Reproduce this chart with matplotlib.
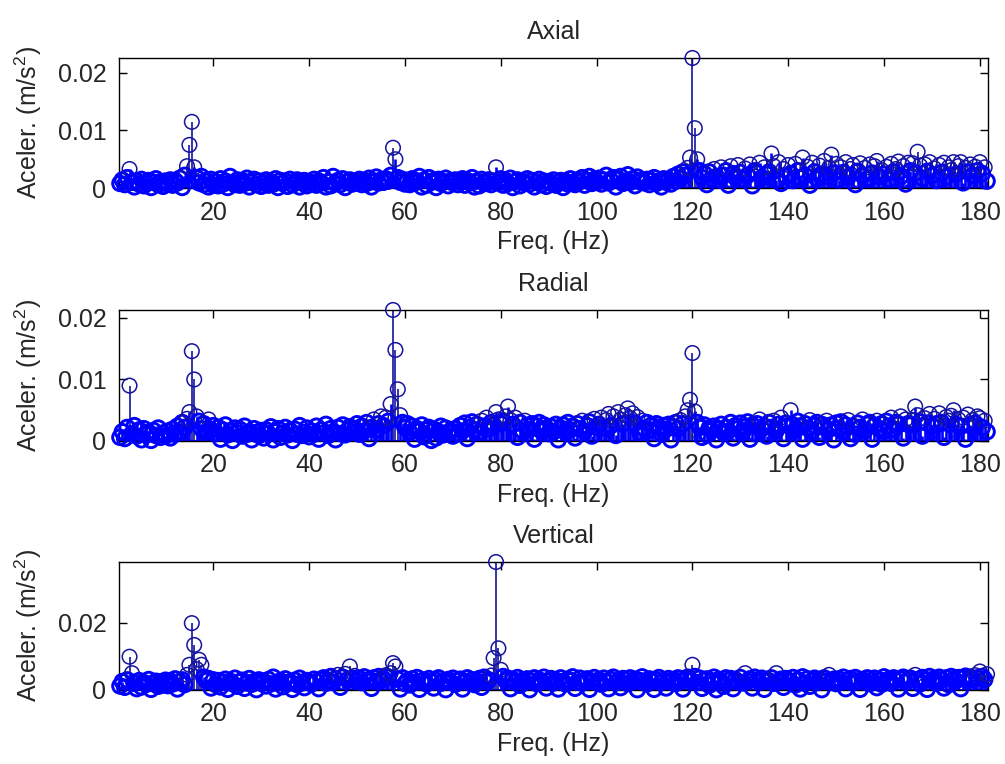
import numpy as np
import matplotlib
matplotlib.use("Agg")
import matplotlib.pyplot as plt

# spectrum amplitudes, units of 1e-4 m/s^2, one value per 0.5 Hz bin (0.5 .. 181.5 Hz)
axial = [
    8, 14, 6, 18, 33, 10, 2, 12, 7, 15, 4, 9, 13, 1, 10, 16, 6, 11, 3, 12,
    7, 14, 5, 13, 9, 17, 1, 22, 38, 75, 115, 36, 18, 9, 20, 6, 13, 2, 15, 5,
    11, 4, 16, 7, 12, 1, 20, 9, 6, 14, 5, 13, 8, 17, 2, 10, 15, 6, 12, 3,
    9, 14, 5, 11, 7, 16, 1, 13, 8, 12, 3, 15, 6, 10, 14, 2, 9, 13, 4, 11,
    7, 15, 5, 12, 9, 18, 2, 11, 4, 20, 8, 13, 6, 16, 1, 10, 14, 7, 12, 9,
    15, 6, 13, 8, 17, 2, 11, 19, 9, 14, 10, 16, 12, 22, 70, 50, 18, 10, 15, 7,
    13, 6, 16, 9, 12, 20, 2, 14, 5, 18, 10, 13, 1, 15, 8, 11, 17, 4, 12, 9,
    14, 6, 11, 16, 5, 13, 9, 18, 2, 12, 4, 15, 10, 8, 14, 6, 12, 36, 9, 16,
    5, 13, 8, 17, 1, 11, 14, 4, 12, 9, 16, 7, 13, 2, 10, 15, 6, 12, 3, 11,
    8, 14, 5, 10, 13, 1, 12, 7, 16, 9, 6, 14, 11, 18, 5, 13, 20, 8, 15, 10,
    17, 7, 14, 22, 9, 13, 18, 2, 15, 20, 8, 12, 23, 10, 16, 4, 19, 11, 14, 9,
    15, 6, 13, 18, 8, 12, 2, 16, 10, 14, 7, 20, 12, 24, 17, 28, 22, 35, 53, 226,
    104, 50, 30, 18, 25, 6, 28, 16, 33, 20, 14, 36, 22, 30, 5, 38, 25, 18, 40, 27,
    15, 34, 22, 41, 4, 30, 26, 44, 18, 36, 24, 28, 60, 38, 14, 45, 8, 33, 20, 40,
    25, 13, 42, 30, 18, 53, 22, 37, 5, 44, 28, 16, 39, 24, 47, 20, 35, 58, 26, 42,
    14, 36, 27, 45, 19, 33, 40, 6, 29, 43, 22, 35, 16, 41, 26, 38, 47, 20, 31, 24,
    37, 15, 42, 28, 33, 46, 20, 38, 7, 44, 30, 43, 26, 63, 39, 17, 41, 29, 45, 22,
    34, 13, 40, 27, 44, 19, 36, 31, 45, 24, 38, 45, 9, 35, 28, 41, 22, 37, 30, 45,
    25, 36, 12,
]

radial = [
    6, 15, 4, 22, 90, 12, 25, 8, 18, 2, 20, 10, 14, 1, 17, 9, 21, 6, 13, 8,
    16, 5, 19, 11, 24, 14, 30, 22, 36, 47, 146, 100, 40, 32, 20, 28, 15, 35, 18, 25,
    12, 22, 3, 18, 26, 10, 16, 1, 21, 13, 19, 8, 24, 11, 15, 2, 20, 14, 9, 17,
    5, 18, 12, 23, 2, 15, 20, 6, 13, 22, 10, 17, 1, 19, 11, 25, 9, 14, 21, 7,
    16, 11, 24, 3, 18, 13, 27, 9, 20, 15, 2, 22, 12, 26, 10, 17, 23, 14, 19, 28,
    11, 24, 16, 30, 4, 22, 35, 18, 28, 40, 25, 38, 32, 60, 213, 148, 84, 42, 30, 22,
    28, 14, 24, 3, 20, 16, 26, 7, 18, 22, 1, 19, 5, 15, 24, 10, 21, 13, 17, 8,
    20, 12, 25, 16, 29, 4, 22, 31, 18, 27, 14, 33, 24, 38, 20, 30, 26, 47, 35, 28,
    32, 40, 56, 34, 27, 38, 6, 30, 17, 33, 25, 19, 28, 3, 24, 30, 16, 26, 21, 12,
    23, 15, 27, 2, 21, 26, 14, 30, 18, 24, 5, 28, 20, 33, 16, 25, 31, 8, 36, 22,
    27, 38, 21, 34, 44, 25, 40, 9, 47, 35, 28, 42, 53, 37, 45, 29, 39, 14, 33, 20,
    30, 18, 26, 4, 28, 22, 11, 25, 19, 27, 2, 23, 30, 20, 34, 28, 40, 50, 67, 143,
    48, 30, 22, 6, 26, 10, 21, 17, 24, 2, 19, 27, 13, 22, 16, 30, 5, 25, 20, 29,
    14, 23, 31, 3, 26, 12, 28, 35, 20, 24, 8, 30, 22, 33, 17, 27, 38, 4, 29, 25,
    50, 26, 18, 32, 24, 3, 28, 21, 34, 16, 25, 30, 6, 27, 22, 33, 19, 26, 2, 29,
    20, 31, 15, 26, 34, 4, 24, 11, 29, 22, 35, 17, 27, 30, 3, 25, 33, 20, 28, 16,
    32, 24, 38, 19, 30, 27, 40, 5, 35, 28, 26, 34, 56, 42, 31, 8, 37, 29, 44, 25,
    36, 28, 45, 30, 6, 39, 33, 41, 50, 27, 35, 24, 38, 3, 43, 26, 34, 29, 40, 37,
    22, 33, 15,
]

vertical = [
    12, 25, 8, 30, 99, 50, 20, 4, 28, 9, 22, 17, 31, 2, 19, 26, 11, 24, 15, 29,
    13, 27, 18, 33, 3, 24, 30, 16, 45, 75, 199, 134, 62, 90, 75, 38, 28, 34, 6, 30,
    16, 28, 9, 23, 32, 2, 26, 19, 35, 11, 24, 29, 5, 21, 34, 17, 25, 1, 30, 20,
    26, 12, 31, 18, 38, 3, 22, 27, 10, 33, 19, 24, 2, 29, 16, 35, 21, 7, 28, 23,
    18, 32, 25, 4, 30, 36, 20, 27, 40, 23, 33, 45, 8, 38, 48, 30, 70, 35, 42, 26,
    34, 22, 39, 27, 31, 5, 36, 25, 40, 29, 33, 44, 38, 50, 80, 70, 32, 3, 36, 19,
    28, 15, 33, 22, 37, 2, 26, 30, 18, 34, 24, 6, 29, 36, 20, 27, 1, 31, 23, 35,
    17, 28, 32, 3, 25, 36, 21, 30, 16, 27, 34, 8, 38, 24, 30, 43, 95, 381, 124, 60,
    40, 28, 35, 4, 31, 24, 37, 14, 29, 22, 33, 1, 26, 36, 19, 30, 25, 38, 6, 27,
    34, 21, 29, 3, 36, 25, 18, 32, 27, 39, 5, 23, 35, 20, 28, 33, 2, 26, 37, 22,
    30, 17, 35, 24, 4, 31, 38, 21, 27, 7, 34, 29, 19, 36, 25, 32, 1, 28, 39, 23,
    18, 33, 26, 2, 30, 37, 22, 28, 6, 34, 24, 31, 19, 36, 27, 3, 32, 38, 29, 75,
    40, 22, 35, 5, 29, 33, 14, 27, 38, 1, 31, 25, 11, 36, 28, 34, 4, 30, 24, 37,
    21, 50, 26, 33, 6, 38, 29, 23, 35, 2, 30, 27, 36, 20, 50, 25, 32, 8, 34, 28,
    24, 37, 15, 30, 3, 39, 20, 33, 11, 28, 35, 22, 31, 1, 36, 27, 45, 25, 32, 19,
    33, 23, 38, 4, 29, 34, 21, 37, 26, 2, 31, 24, 36, 19, 28, 35, 7, 30, 17, 39,
    25, 32, 20, 36, 28, 3, 33, 38, 23, 30, 35, 5, 45, 31, 18, 37, 29, 2, 40, 27,
    34, 21, 38, 30, 6, 36, 16, 40, 32, 27, 37, 4, 35, 41, 29, 38, 33, 44, 36, 55,
    40, 31, 47,
]

TITLES = ["Axial", "Radial", "Vertical"]
SERIES = [axial, radial, vertical]
YTICKS = [[0, 0.01, 0.02], [0, 0.01, 0.02], [0, 0.02]]
YTICK_LABELS = [["0", "0.01", "0.02"], ["0", "0.01", "0.02"], ["0", "0.02"]]
XTICKS = [20, 40, 60, 80, 100, 120, 140, 160, 180]
BIN = 0.5
UNIT = 1e-4
# above this a circle stands alone, below it melts into the noise band
PEAK_LEVEL = [0.003, 0.0032, 0.0042]
STEM_LEVEL = 0.0062   # stems only stand out above this

# axes boxes in figure fractions: left, bottom, width, height
BOXES = [[0.1184, 0.7539, 0.8647, 0.1702],
         [0.1184, 0.4228, 0.8647, 0.1715],
         [0.1184, 0.0969, 0.8647, 0.1675]]

plt.rcParams['font.family'] = ['Liberation Sans', 'DejaVu Sans']
plt.rcParams['font.size'] = 18
plt.rcParams['mathtext.fontset'] = 'custom'
plt.rcParams['mathtext.rm'] = 'Liberation Sans'
plt.rcParams['mathtext.it'] = 'Liberation Sans'
TXT = '#262626'
BLUE = '#0000ff'
DARK = '#1414a0'

fig = plt.figure(figsize=(10.05, 7.64), dpi=100)

for k in range(3):
    ax = fig.add_axes(BOXES[k])
    amp = np.array(SERIES[k]) * UNIT
    freq = BIN * np.arange(1, len(amp) + 1)
    peak = amp > PEAK_LEVEL[k]
    tall = amp > STEM_LEVEL

    markerline, stemlines, baseline = ax.stem(freq, amp, linefmt='-', markerfmt=' ', basefmt='-')
    stemlines.set_colors([DARK if t else BLUE for t in tall])
    stemlines.set_linewidths(np.where(tall, 1.2, 1.9))
    baseline.set_color(BLUE)
    baseline.set_linewidth(1.5)

    ax.scatter(freq, amp, s=110, facecolors='none',
               edgecolors=[DARK if p else BLUE for p in peak],
               linewidths=np.where(peak, 1.1, 2.1), clip_on=False, zorder=3)

    ax.set_xlim(0.3, 181.7)
    ax.set_ylim(0, amp.max())
    ax.set_xticks(XTICKS)
    ax.set_xticklabels([str(t) for t in XTICKS])
    ax.set_yticks(YTICKS[k])
    ax.set_yticklabels(YTICK_LABELS[k])
    ax.tick_params(direction='in', length=6, width=1, top=True, right=True,
                   labelcolor=TXT, pad=9)
    for s in ax.spines.values():
        s.set_linewidth(1.0)
    ax.set_title(TITLES[k], color=TXT, pad=14, fontsize=18)
    ax.set_xlabel("Freq. (Hz)", color=TXT, labelpad=4)
    ax.set_ylabel("Aceler. (m/s$^2$)", color=TXT, labelpad=10)

fig.savefig("out.png", dpi=100)
